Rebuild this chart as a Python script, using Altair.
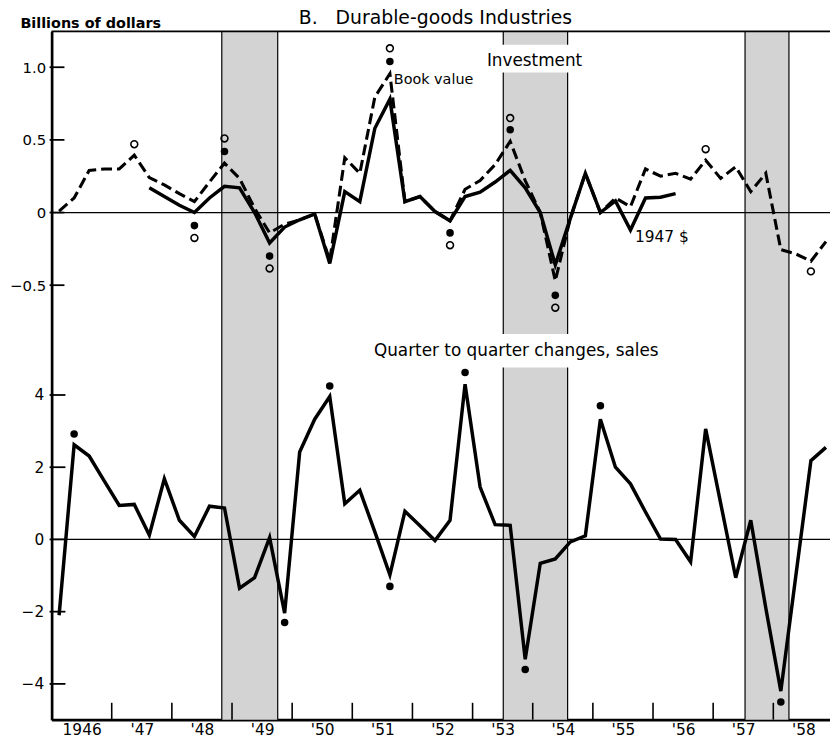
import altair as alt
import pandas as pd

# ---------------- data (quarterly, 1946 Q1 .. 1958 Q4) ----------------
FIRST_YEAR = 1946

book_value = [0.01, 0.10, 0.29, 0.30, 0.30, 0.395, 0.24, 0.19, 0.13, 0.075,
              0.21, 0.34, 0.235, 0.03, -0.14, -0.08, -0.05, -0.01, -0.33, 0.377,
              0.27, 0.795, 0.955, 0.075, 0.11, 0.007, -0.057, 0.16, 0.22, 0.33,
              0.49, 0.22, 0.0, -0.47, -0.04, 0.27, 0.0, 0.10, 0.04, 0.30,
              0.25, 0.27, 0.23, 0.36, 0.235, 0.315, 0.144, 0.27, -0.255, -0.285,
              -0.335, -0.20]

real_1947_start = "1947Q3"
real_1947 = [0.17, 0.11, 0.05, 0.0, 0.10, 0.18, 0.17, 0.0, -0.21, -0.10,
             -0.05, -0.01, -0.35, 0.144, 0.075, 0.58, 0.78, 0.075, 0.11, 0.007,
             -0.057, 0.11, 0.14, 0.21, 0.29, 0.17, 0.0, -0.36, -0.04, 0.27,
             0.0, 0.08, -0.12, 0.10, 0.105, 0.13]

sales = [-2.1, 2.62, 2.31, 1.62, 0.94, 0.97, 0.12, 1.68, 0.53, 0.08,
         0.92, 0.87, -1.35, -1.06, 0.05, -2.04, 2.42, 3.33, 3.96, 0.99,
         1.36, 0.21, -0.98, 0.78, 0.38, -0.03, 0.53, 4.3, 1.45, 0.41,
         0.39, -3.32, -0.66, -0.54, -0.07, 0.10, 3.33, 2.0, 1.54, 0.76,
         0.01, 0.0, -0.62, 3.06, 1.0, -1.06, 0.53, -1.9, -4.2, -1.0,
         2.18, 2.55]

top_filled_q = ["1948Q2", "1948Q4", "1949Q3", "1951Q3", "1952Q3", "1953Q3", "1954Q2"]
top_filled_v = [-0.09, 0.42, -0.30, 1.04, -0.14, 0.57, -0.57]
top_open_q = ["1947Q2", "1948Q2", "1948Q4", "1949Q3", "1951Q3", "1952Q3",
              "1953Q3", "1954Q2", "1956Q4", "1958Q3"]
top_open_v = [0.47, -0.175, 0.51, -0.385, 1.13, -0.225, 0.65, -0.655, 0.436, -0.405]
sales_dot_q = ["1946Q2", "1949Q4", "1950Q3", "1951Q3", "1952Q4", "1953Q4", "1955Q1", "1958Q1"]
sales_dot_v = [2.92, -2.3, 4.25, -1.3, 4.62, -3.6, 3.7, -4.5]

band_start = [1948.83, 1953.51, 1957.53]
band_end = [1949.76, 1954.58, 1958.26]

year_ticks = list(range(1946, 1959))
inner_year_ticks = list(range(1947, 1959))
top_ticks = [-0.5, 0, 0.5, 1.0]
bottom_ticks = [-4, -2, 0, 2, 4]

TITLE = "B.\u00a0\u00a0\u00a0Durable-goods Industries"

# ---------------- layout ----------------
W, H = 786, 695
PX_PER_YEAR = 60.73
X_DOMAIN = [1946, 1946 + W / PX_PER_YEAR]
TOP_DOMAIN = [-3.49, 1.247]
BOT_DOMAIN = [-4.99, 14.07]
FONT = "DejaVu Sans"


def qtime(label):
    return int(label[:4]) + (int(label[-1]) - 0.5) / 4


def series_df(values, start_label):
    t0 = qtime(start_label)
    return pd.DataFrame({"t": [t0 + i / 4 for i in range(len(values))], "v": values})


book_df = series_df(book_value, f"{FIRST_YEAR}Q1")
real_df = series_df(real_1947, real_1947_start)
sales_df = series_df(sales, f"{FIRST_YEAR}Q1")
top_filled_df = pd.DataFrame({"t": [qtime(q) for q in top_filled_q], "v": top_filled_v})
top_open_df = pd.DataFrame({"t": [qtime(q) for q in top_open_q], "v": top_open_v})
sales_dot_df = pd.DataFrame({"t": [qtime(q) for q in sales_dot_q], "v": sales_dot_v})
bands_df = pd.DataFrame({"start": band_start, "end": band_end})
edges_df = pd.DataFrame({"t": band_start + band_end})
mid_band_df = bands_df.iloc[[1]]
xtick_df = pd.DataFrame({"t": inner_year_ticks})
top_tick_df = pd.DataFrame({"v": top_ticks})
bot_tick_df = pd.DataFrame({"v": bottom_ticks})
zero_df = pd.DataFrame({"v": [0]})

x_axis = alt.Axis(values=year_ticks, format="d",
                  labelExpr="datum.value == 1946 ? datum.label : \"'\" + substring(datum.label, 2)",
                  labelOffset=PX_PER_YEAR / 2, ticks=False, tickSize=0, labelPadding=3,
                  labelFontSize=15.5, labelFont=FONT, labelColor="black", labelFlush=False,
                  labelOverlap=False, grid=False, domainWidth=2.6, domainColor="black", title=None)
x_scale = alt.Scale(domain=X_DOMAIN, nice=False, zero=False)

top_axis = alt.Axis(values=top_ticks, orient="left",
                    labelExpr="datum.value == 0 ? '0' : format(datum.value, '.1f')",
                    ticks=False, tickSize=0, labelPadding=6, labelFontSize=15, labelFont=FONT,
                    labelColor="black", grid=False, domainWidth=2.4, domainColor="black",
                    title="Billions of dollars", titleAngle=0, titleAlign="left",
                    titleBaseline="alphabetic", titleX=-32, titleY=-4, titleFont=FONT,
                    titleFontSize=14.5, titleFontWeight="bold", titleColor="black")
top_scale = alt.Scale(domain=TOP_DOMAIN, nice=False, zero=False)
bot_axis = alt.Axis(values=bottom_ticks, orient="left", format="d", ticks=False, tickSize=0,
                    labelPadding=8, labelFontSize=15.5, labelFont=FONT, labelColor="black",
                    grid=False, domainWidth=2.4, domainColor="black", title=None)
bot_scale = alt.Scale(domain=BOT_DOMAIN, nice=False, zero=False)


def X(field):
    return alt.X(f"{field}:Q", scale=x_scale, axis=x_axis)


def YT(field="v"):
    return alt.Y(f"{field}:Q", scale=top_scale, axis=top_axis)


def YB(field="v"):
    return alt.Y(f"{field}:Q", scale=bot_scale, axis=bot_axis)


def label(df_t, df_v, text, size, align="left", weight="normal", bottom=False):
    d = pd.DataFrame({"t": [df_t], "v": [df_v], "s": [text]})
    return alt.Chart(d).mark_text(align=align, baseline="alphabetic", font=FONT, fontSize=size,
                                  fontWeight=weight, color="black").encode(
        x=X("t"), y=(YB() if bottom else YT()), text="s:N")


bands = alt.Chart(bands_df).mark_rect(color="#d3d3d3").encode(
    x=X("start"), x2="end", y=alt.value(0), y2=alt.value(H))
edges = alt.Chart(edges_df).mark_rule(color="black", strokeWidth=1.2).encode(
    x=X("t"), y=alt.value(0), y2=alt.value(H))
gap1 = alt.Chart(mid_band_df).mark_rect(color="white", stroke="white", strokeWidth=3).encode(
    x=X("start"), x2="end", y=alt.value(15), y2=alt.value(40))
gap2 = alt.Chart(mid_band_df).mark_rect(color="white", stroke="white", strokeWidth=3).encode(
    x=X("start"), x2="end", y=alt.value(307), y2=alt.value(338))
frame_top = alt.Chart(zero_df).mark_rule(color="black", strokeWidth=1.6).encode(
    x=alt.value(0), x2=alt.value(W), y=alt.value(0))
xticks = alt.Chart(xtick_df).mark_rule(color="black", strokeWidth=1.6).encode(
    x=X("t"), y=alt.value(H), y2=alt.value(H - 17))

zero_top = alt.Chart(zero_df).mark_rule(color="black", strokeWidth=1.2).encode(
    y=YT(), x=alt.value(0), x2=alt.value(W))
ticks_top = alt.Chart(top_tick_df).mark_rule(color="black", strokeWidth=1.8).encode(
    y=YT(), x=alt.value(-2), x2=alt.value(13))
real_line = alt.Chart(real_df).mark_line(color="black", strokeWidth=3.5).encode(
    x=X("t"), y=YT(), order="t:Q")
book_line = alt.Chart(book_df).mark_line(color="black", strokeWidth=3.1, strokeDash=[11, 5]).encode(
    x=X("t"), y=YT(), order="t:Q")
top_filled = alt.Chart(top_filled_df).mark_circle(color="black", size=58, opacity=1).encode(
    x=X("t"), y=YT())
top_open = alt.Chart(top_open_df).mark_point(shape="circle", filled=False, color="black",
                                              size=48, strokeWidth=1.6, opacity=1).encode(
    x=X("t"), y=YT())

top_group = alt.layer(
    bands, edges, gap1, gap2, frame_top, xticks, zero_top, ticks_top,
    real_line, book_line, top_filled, top_open,
    label(1954.03, 1.009, "Investment", 17, align="center"),
    label(1951.69, 0.888, "Book value", 14.5),
    label(1955.70, -0.2025, "1947 $", 15.5),
    label(1950.11, 1.295, TITLE, 19),
)

zero_bot = alt.Chart(zero_df).mark_rule(color="black", strokeWidth=1.2).encode(
    y=YB(), x=alt.value(0), x2=alt.value(W))
ticks_bot = alt.Chart(bot_tick_df).mark_rule(color="black", strokeWidth=1.8).encode(
    y=YB(), x=alt.value(-2), x2=alt.value(14))
sales_line = alt.Chart(sales_df).mark_line(color="black", strokeWidth=3.5).encode(
    x=X("t"), y=YB(), order="t:Q")
sales_dots = alt.Chart(sales_dot_df).mark_circle(color="black", size=58, opacity=1).encode(
    x=X("t"), y=YB())

bottom_group = alt.layer(
    zero_bot, ticks_bot, sales_line, sales_dots,
    label(1951.36, 5.08, "Quarter to quarter changes, sales", 17, bottom=True),
)

chart = alt.layer(top_group, bottom_group).resolve_scale(y="independent").properties(
    width=W, height=H,
    autosize=alt.AutoSizeParams(type="none"),
    padding={"left": 44, "top": 20, "right": 0, "bottom": 18},
).configure_view(stroke=None).configure(background="white")

chart.save("out.html", embed_options={"renderer": "svg", "actions": False})
